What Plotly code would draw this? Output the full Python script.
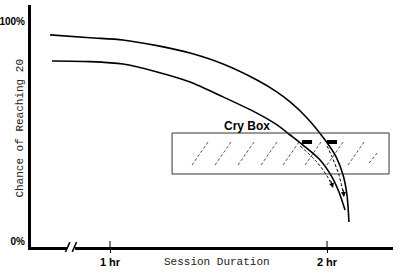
import plotly.graph_objects as go

# --- data (hours, percent) ---
upper_x = [0.724, 0.908, 1.060, 1.217, 1.369, 1.521, 1.677, 1.770, 1.830, 1.908, 1.991, 2.042, 2.074, 2.092, 2.101]
upper_y = [94.1, 92.8, 91.8, 89.2, 85.8, 80.8, 73.5, 68.0, 63.5, 56.2, 46.1, 38.4, 30.1, 21.0, 8.7]
lower_x = [0.733, 0.908, 1.060, 1.217, 1.369, 1.521, 1.677, 1.770, 1.830, 1.889, 1.968, 2.023, 2.055, 2.083]
lower_y = [82.2, 81.9, 80.8, 77.2, 72.6, 65.8, 58.4, 53.0, 48.4, 43.8, 37.0, 29.2, 22.4, 14.2]
dash_left_x = [1.876, 1.949, 2.000, 2.028]
dash_left_y = [43.4, 36.5, 29.7, 24.2]
dash_right_x = [2.000, 2.023, 2.055, 2.078]
dash_right_y = [43.4, 38.4, 30.1, 20.1]
marker_x = [(1.885, 1.931), (2.000, 2.046)]
marker_y = 45.2
box_x = [1.286, 2.286]
box_y = [30.6, 49.3]
hatch_x = [1.378, 1.484, 1.590, 1.696, 1.797, 1.899, 2.000, 2.097]
hatch_y = [34.7, 45.2]
x_ticks = [1, 2]
x_ticklabels = ["1 hr", "2 hr"]
y_ticks = [0, 100]
y_ticklabels = ["0%", "100%"]

DASH = dict(color="#555", width=1, dash="3px,2px")
fig = go.Figure()

# hatching in box
for hx in hatch_x:
    fig.add_trace(go.Scatter(x=[hx, hx + 0.0737], y=hatch_y, mode="lines", line=DASH,
                             hoverinfo="skip", showlegend=False))
fig.add_trace(go.Scatter(x=[2.194, 2.231], y=[35.6, 40.2], mode="lines", line=DASH,
                         hoverinfo="skip", showlegend=False))

# box
fig.add_shape(type="rect", x0=box_x[0], x1=box_x[1], y0=box_y[0], y1=box_y[1],
              line=dict(color="#333", width=1), fillcolor="rgba(0,0,0,0)")

# curves
fig.add_trace(go.Scatter(x=upper_x, y=upper_y, mode="lines",
                         line=dict(color="black", width=1.6, shape="spline", smoothing=0.8), showlegend=False))
fig.add_trace(go.Scatter(x=lower_x, y=lower_y, mode="lines",
                         line=dict(color="black", width=1.6, shape="spline", smoothing=0.8), showlegend=False))
fig.add_trace(go.Scatter(x=dash_left_x, y=dash_left_y, mode="lines",
                         line=dict(color="black", width=1, dash="3px,2px", shape="spline"), showlegend=False))
fig.add_trace(go.Scatter(x=dash_right_x, y=dash_right_y, mode="lines",
                         line=dict(color="black", width=1, dash="3px,2px", shape="spline"), showlegend=False))

# markers
for mx in marker_x:
    fig.add_trace(go.Scatter(x=list(mx), y=[marker_y, marker_y], mode="lines",
                             line=dict(color="black", width=4), showlegend=False))

annotations = [
    dict(x=1.631, y=box_y[1] + 3.3, text="<b>Cry Box</b>", showarrow=False,
         font=dict(family="Liberation Sans, Arial", size=12, color="black")),
    dict(x=dash_left_x[-1], y=dash_left_y[-1], ax=-3, ay=-9, text="", showarrow=True,
         arrowhead=2, arrowsize=1, arrowwidth=1, arrowcolor="black"),
    dict(x=dash_right_x[-1], y=dash_right_y[-1], ax=-1, ay=-9, text="", showarrow=True,
         arrowhead=2, arrowsize=1, arrowwidth=1, arrowcolor="black"),
    dict(xref="paper", yref="paper", x=0.514, y=-0.062, yanchor="middle", text="Session Duration",
         showarrow=False, font=dict(family="Liberation Mono, Courier New", size=11, color="#222")),
    dict(xref="paper", yref="paper", x=-0.052, y=0.49, text="Chance of Reaching 20", textangle=-90,
         showarrow=False, font=dict(family="Liberation Mono, Courier New", size=11, color="#222")),
]

# axis break
fig.add_shape(type="rect", xref="x", yref="paper", x0=0.802, x1=0.839, y0=-0.03, y1=0.03,
              line=dict(width=0), fillcolor="white", layer="above")
for sx in [0.805, 0.836]:
    fig.add_shape(type="line", xref="x", yref="paper", x0=sx - 0.010, x1=sx + 0.010, y0=-0.02, y1=0.02,
                  line=dict(color="black", width=1.5), layer="above")
# tick marks crossing axis
for tx in x_ticks:
    fig.add_shape(type="line", xref="x", yref="paper", x0=tx, x1=tx, y0=-0.012, y1=0.025,
                  line=dict(color="black", width=1), layer="above")

fig.update_layout(
    width=400, height=273,
    margin=dict(l=31, r=7, t=5, b=26),
    paper_bgcolor="white", plot_bgcolor="white",
    showlegend=False,
    annotations=annotations,
    xaxis=dict(range=[0.636, 2.304], showgrid=False, zeroline=False, showline=True, linecolor="black",
               linewidth=3, tickvals=x_ticks, ticktext=x_ticklabels, ticks="outside", ticklen=3,
               tickcolor="black", tickwidth=1, automargin=False,
               tickfont=dict(family="Liberation Sans, Arial", size=11, color="black", weight="bold")),
    yaxis=dict(range=[-2.74, 107.76], showgrid=False, zeroline=False, showline=True, linecolor="black",
               linewidth=3, tickvals=y_ticks, ticktext=y_ticklabels, ticks="", ticklabelstandoff=1,
               automargin=False,
               tickfont=dict(family="Liberation Sans, Arial", size=10, color="black", weight="bold")),
)

fig.write_html("out.html")
